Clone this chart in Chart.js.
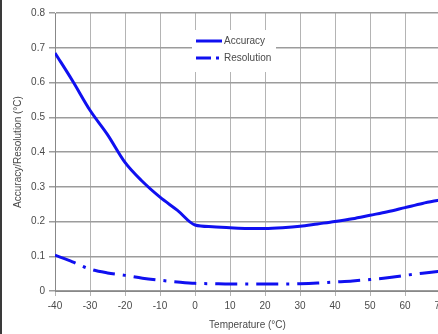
<!DOCTYPE html>
<html>
<head>
<meta charset="utf-8">
<script src="https://cdn.jsdelivr.net/npm/chart.js@4"></script>
<style>
  html, body { margin: 0; padding: 0; background: #fff; overflow: hidden; }
  #wrap { position: relative; width: 438px; height: 334px; overflow: hidden; }
  #edge { position: absolute; left: 0; top: 0; width: 2px; height: 334px; background: #3a3a3a; }
  canvas { position: absolute; left: 0; top: 0; }
</style>
</head>
<body>
<div id="wrap">
  <canvas id="chart" width="460" height="334"></canvas>
  <div id="edge"></div>
</div>
<script>
const temps = [-40, -35, -30, -25, -20, -15, -10, -5, 0, 5, 10, 15, 20, 25, 30, 35, 40, 45, 50, 55, 60, 65, 70];
const accuracy = [0.685, 0.605, 0.52, 0.45, 0.37, 0.315, 0.27, 0.232, 0.19, 0.185, 0.182, 0.18, 0.18, 0.182, 0.186, 0.193, 0.2, 0.208, 0.218, 0.228, 0.24, 0.252, 0.262];
const resolution = [0.103, 0.084, 0.063, 0.052, 0.045, 0.037, 0.031, 0.026, 0.022, 0.021, 0.02, 0.02, 0.02, 0.02, 0.021, 0.023, 0.026, 0.029, 0.033, 0.038, 0.045, 0.051, 0.057];
const seriesNames = ["Accuracy", "Resolution"];
const xTitle = "Temperature (°C)";
const yTitle = "Accuracy/Resolution (°C)";

const font = { family: "'Liberation Sans', Arial, sans-serif", size: 10 };
const textColor = "#4a4a4a";

// legend box drawn inside the plot, white background hides the grid
const boxLegend = {
  id: "boxLegend",
  afterDatasetsDraw(chart) {
    const ctx = chart.ctx;
    const x0 = chart.scales.x.getPixelForValue(0) - 3;
    const y0 = chart.chartArea.top + 17;
    ctx.save();
    ctx.fillStyle = "#fff";
    ctx.fillRect(x0, y0, 84, 42);
    ctx.font = `${font.size}px ${font.family}`;
    ctx.textBaseline = "middle";
    chart.data.datasets.forEach((ds, i) => {
      const y = y0 + 11 + i * 17;
      ctx.strokeStyle = ds.borderColor;
      ctx.lineWidth = ds.borderWidth;
      ctx.setLineDash(i === 0 ? [] : [15, 5, 3, 10]);
      ctx.beginPath();
      ctx.moveTo(x0 + 4, y);
      ctx.lineTo(x0 + 30, y);
      ctx.stroke();
      ctx.setLineDash([]);
      ctx.fillStyle = textColor;
      ctx.fillText(ds.label, x0 + 32, y);
    });
    ctx.restore();
  }
};

new Chart(document.getElementById("chart").getContext("2d"), {
  type: "line",
  data: {
    datasets: [
      {
        label: seriesNames[0],
        data: temps.map((t, i) => ({ x: t, y: accuracy[i] })),
        borderColor: "#1010f0",
        borderWidth: 3,
        pointRadius: 0,
        cubicInterpolationMode: "monotone",
      },
      {
        label: seriesNames[1],
        data: temps.map((t, i) => ({ x: t, y: resolution[i] })),
        borderColor: "#1010f0",
        borderWidth: 3,
        borderDash: [22, 8, 3, 8],
        pointRadius: 0,
        cubicInterpolationMode: "monotone",
      },
    ],
  },
  options: {
    responsive: false,
    animation: false,
    layout: { padding: { top: 13, right: 20, left: 0, bottom: 0 } },
    plugins: {
      legend: { display: false },
      tooltip: { enabled: false },
    },
    scales: {
      x: {
        type: "linear",
        min: -40,
        max: 70,
        ticks: { stepSize: 10, font, color: textColor, padding: 4, maxRotation: 0 },
        grid: { color: "#b4b4b4", lineWidth: 1, tickLength: 5 },
        border: { color: "#888" },
        title: { display: true, text: xTitle, font, color: textColor, padding: { top: 0, bottom: 3 } },
        afterFit(scale) { scale.height = 43; },
      },
      y: {
        min: 0,
        max: 0.8,
        ticks: {
          stepSize: 0.1,
          font,
          color: textColor,
          padding: 4,
          callback: (v) => (v === 0 ? "0" : v.toFixed(1)),
        },
        grid: { color: "#9c9c9c", lineWidth: 1.5, tickLength: 6 },
        border: { color: "#888" },
        title: { display: true, text: yTitle, font, color: textColor, padding: { top: 12, bottom: 0 } },
        afterFit(scale) { scale.width = 55; },
      },
    },
  },
  plugins: [boxLegend],
});
</script>
</body>
</html>
